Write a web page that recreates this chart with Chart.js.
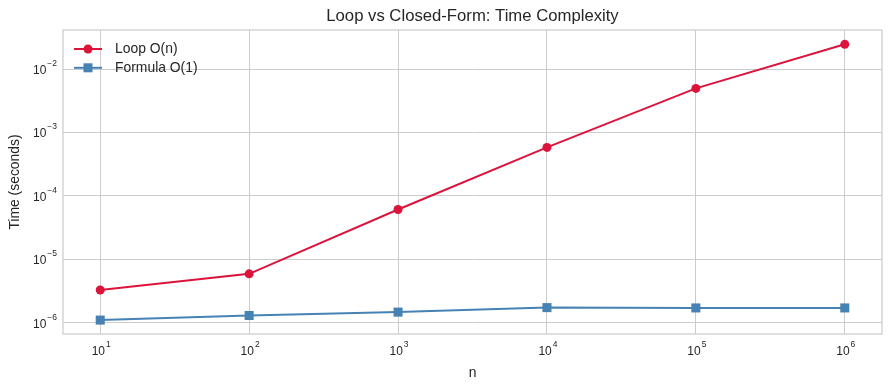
<!DOCTYPE html>
<html>
<head>
<meta charset="utf-8">
<script src="https://cdn.jsdelivr.net/npm/chart.js@4/dist/chart.umd.min.js"></script>
<style>
  html, body { margin: 0; padding: 0; background: #fff; }
  #wrap { width: 889px; height: 390px; }
</style>
</head>
<body>
<div id="wrap"><canvas id="grafico" width="889" height="390"></canvas></div>
<script>
// Datos
var nValues = [1e1, 1e2, 1e3, 1e4, 1e5, 1e6];
var loopTimes = [3.28e-6, 5.9e-6, 6.1e-5, 5.8e-4, 4.95e-3, 2.45e-2];
var formulaTimes = [1.1e-6, 1.3e-6, 1.47e-6, 1.73e-6, 1.71e-6, 1.71e-6];
var xTicks = [1e1, 1e2, 1e3, 1e4, 1e5, 1e6];
var yTicks = [1e-6, 1e-5, 1e-4, 1e-3, 1e-2];
var titulo = 'Loop vs Closed-Form: Time Complexity';

var fuente = '"Liberation Sans", Arial, sans-serif';

function exponente(v) {
  return String(Math.round(Math.log10(v))).replace('-', '\u2212');
}

function puntos(ys) {
  return nValues.map(function (n, i) { return { x: n, y: ys[i] }; });
}

// Etiqueta 10^e con superindice
function potencia(ctx, x, y, v, alinear) {
  var e = exponente(v);
  ctx.font = '12px ' + fuente;
  var wb = ctx.measureText('10').width;
  ctx.font = '8.5px ' + fuente;
  var we = ctx.measureText(e).width;
  var total = wb + 1 + we;
  var x0 = alinear === 'right' ? x - total : x - total / 2;
  ctx.textBaseline = 'middle';
  ctx.textAlign = 'left';
  ctx.font = '12px ' + fuente;
  ctx.fillText('10', x0, y);
  ctx.font = '8.5px ' + fuente;
  ctx.fillText(e, x0 + wb + 1, y - 7);
}

// Borde completo, titulo y etiquetas de los ejes
var marco = {
  id: 'marco',
  beforeDatasetsDraw: function (chart) {
    var a = chart.chartArea, ctx = chart.ctx;
    ctx.save();
    ctx.strokeStyle = '#cccccc';
    ctx.lineWidth = 1.25;
    ctx.strokeRect(a.left, a.top, a.right - a.left, a.bottom - a.top);
    ctx.fillStyle = '#262626';
    var sx = chart.scales.x, sy = chart.scales.y;
    sx.ticks.forEach(function (t) {
      potencia(ctx, sx.getPixelForValue(t.value) + 1, a.bottom + 18, t.value, 'center');
    });
    sy.ticks.forEach(function (t) {
      potencia(ctx, a.left - 6, sy.getPixelForValue(t.value) + 1.5, t.value, 'right');
    });
    // Titulo centrado sobre el area del grafico
    ctx.font = '16.7px ' + fuente;
    ctx.textAlign = 'center';
    ctx.textBaseline = 'middle';
    ctx.fillText(titulo, (a.left + a.right) / 2, 16);
    ctx.restore();
  }
};

// Leyenda estilo matplotlib (linea + marcador)
var leyenda = {
  id: 'leyenda',
  afterDraw: function (chart) {
    var ctx = chart.ctx, a = chart.chartArea;
    ctx.save();
    chart.data.datasets.forEach(function (ds, i) {
      var y = a.top + 19 + i * 18.8;
      var x0 = a.left + 11;
      ctx.strokeStyle = ds.borderColor;
      ctx.lineWidth = 2;
      ctx.beginPath();
      ctx.moveTo(x0, y);
      ctx.lineTo(x0 + 28, y);
      ctx.stroke();
      ctx.fillStyle = ds.backgroundColor;
      if (ds.pointStyle === 'rect') {
        ctx.fillRect(x0 + 14 - 4.5, y - 4.5, 9, 9);
      } else {
        ctx.beginPath();
        ctx.arc(x0 + 14, y, 4.5, 0, Math.PI * 2);
        ctx.fill();
      }
      ctx.fillStyle = '#262626';
      ctx.font = '13.9px ' + fuente;
      ctx.textBaseline = 'middle';
      ctx.fillText(ds.label, x0 + 41, y + 0.5);
    });
    ctx.restore();
  }
};

new Chart(document.getElementById('grafico').getContext('2d'), {
  type: 'line',
  data: {
    datasets: [{
      label: 'Loop O(n)',
      data: puntos(loopTimes),
      borderColor: '#DC143C',
      backgroundColor: '#DC143C',
      borderWidth: 2,
      pointStyle: 'circle',
      pointRadius: 4.5,
      pointBorderWidth: 0,
      tension: 0
    }, {
      label: 'Formula O(1)',
      data: puntos(formulaTimes),
      borderColor: '#4682B4',
      backgroundColor: '#4682B4',
      borderWidth: 2,
      pointStyle: 'rect',
      pointRadius: 6.4,
      pointBorderWidth: 0,
      tension: 0
    }]
  },
  options: {
    responsive: false,
    animation: false,
    layout: { padding: { left: 0, right: 7, top: 30, bottom: 0 } },
    plugins: {
      legend: { display: false },
      tooltip: { enabled: false },
      title: { display: false }
    },
    scales: {
      x: {
        type: 'logarithmic',
        min: Math.pow(10, 0.75),
        max: Math.pow(10, 6.25),
        afterBuildTicks: function (s) { s.ticks = xTicks.map(function (v) { return { value: v }; }); },
        afterFit: function (s) { s.height = 56; },
        grid: { color: '#cccccc', lineWidth: 1, drawTicks: false },
        border: { display: false },
        ticks: { display: false },
        title: {
          display: true,
          text: 'n',
          color: '#262626',
          font: { family: fuente, size: 13.9 },
          padding: { top: 0, bottom: 8 }
        }
      },
      y: {
        type: 'logarithmic',
        min: Math.pow(10, -6.178),
        max: Math.pow(10, -1.385),
        afterBuildTicks: function (s) { s.ticks = yTicks.map(function (v) { return { value: v }; }); },
        afterFit: function (s) { s.width = 63; },
        grid: { color: '#cccccc', lineWidth: 1, drawTicks: false },
        border: { display: false },
        ticks: { display: false },
        title: {
          display: true,
          text: 'Time (seconds)',
          color: '#262626',
          font: { family: fuente, size: 13.9 },
          padding: { top: 7, bottom: 0 }
        }
      }
    }
  },
  plugins: [marco, leyenda]
});
</script>
</body>
</html>
